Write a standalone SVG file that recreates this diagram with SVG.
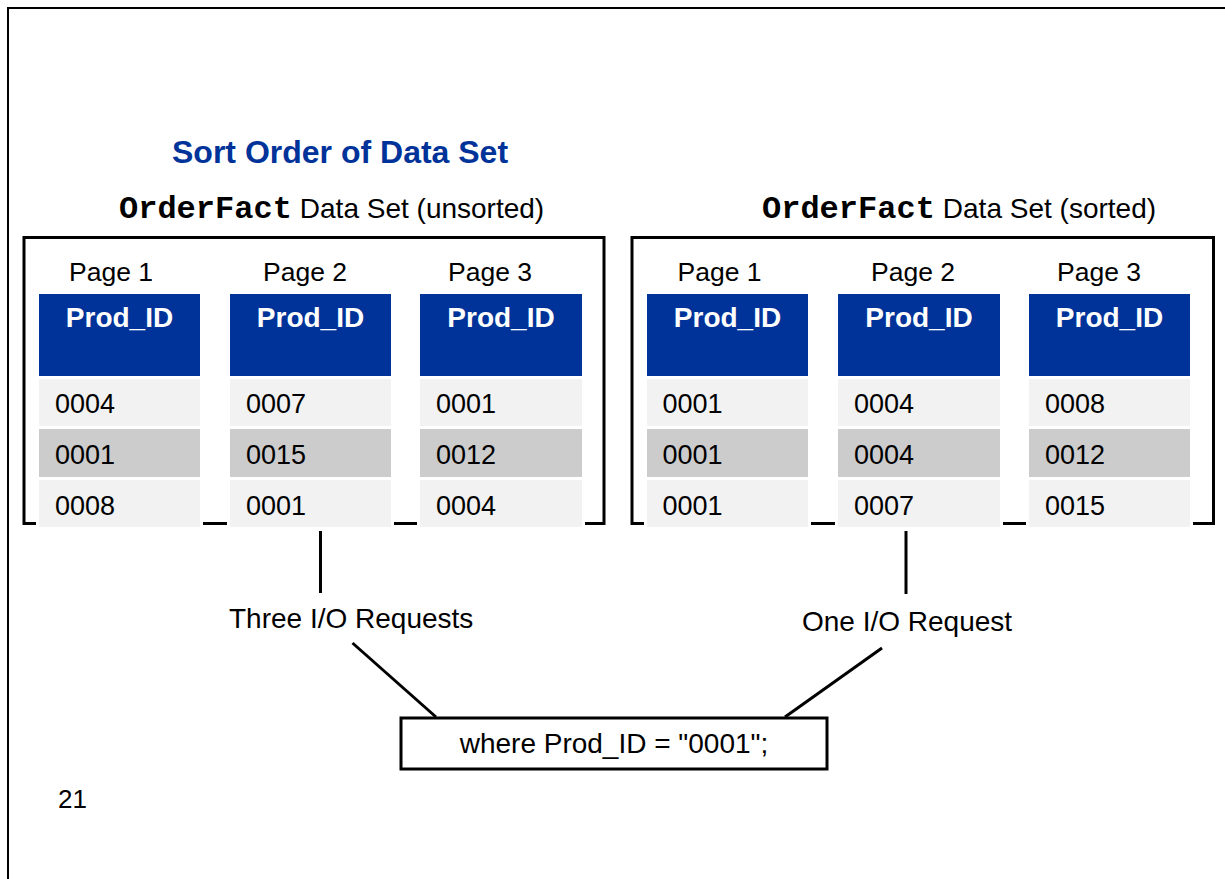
<svg xmlns="http://www.w3.org/2000/svg" width="1225" height="879" viewBox="0 0 1225 879">
<style>
.sans{font-family:"Liberation Sans",Arial,sans-serif;fill:#000}
.title{font-family:"Liberation Sans",Arial,sans-serif;font-weight:bold;font-size:32px;fill:#003399}
.mono{font-family:"Liberation Mono","Courier New",monospace;font-weight:bold;font-size:32px}
.sub{font-size:28px}
.page{font-size:26.5px}
.val{font-size:27px}
.hdr{font-family:"Liberation Sans",Arial,sans-serif;font-weight:bold;font-size:28px;fill:#fff}
.lbl{font-size:28px}
.box{fill:none;stroke:#000;stroke-width:3}
.hbg{fill:#003399}
.r1{fill:#f2f2f2}
.r2{fill:#cccccc}
.back{fill:#fff}
.conn{stroke:#000;stroke-width:3;fill:none}
</style>
<rect width="1225" height="879" fill="#fff"/>
<rect id="frame" x="8" y="8" width="1240" height="900" fill="none" stroke="#000" stroke-width="2"/>

<text id="title" class="title" x="172" y="163">Sort Order of Data Set</text>

<g id="unsorted">
  <text x="119" y="218"><tspan class="mono">OrderFact</tspan><tspan class="sans sub" dx="8">Data Set (unsorted)</tspan></text>
  <rect class="box" x="24" y="237.5" width="580" height="286"/>
  <g id="u-page1">
    <rect class="back" x="36" y="290" width="167" height="240"/>
    <text class="sans page" x="69" y="281">Page 1</text>
    <rect class="hbg" x="39" y="294" width="161" height="82"/>
    <text class="hdr" x="119.5" y="327" text-anchor="middle">Prod_ID</text>
    <rect class="r1" x="39" y="379" width="161" height="47"/>
    <rect class="r2" x="39" y="429" width="161" height="48"/>
    <rect class="r1" x="39" y="480" width="161" height="47"/>
    <text class="sans val" x="55" y="413">0004</text>
    <text class="sans val" x="55" y="464">0001</text>
    <text class="sans val" x="55" y="515">0008</text>
  </g>
  <g id="u-page2">
    <rect class="back" x="227" y="290" width="167" height="240"/>
    <text class="sans page" x="263" y="281">Page 2</text>
    <rect class="hbg" x="230" y="294" width="161" height="82"/>
    <text class="hdr" x="310.5" y="327" text-anchor="middle">Prod_ID</text>
    <rect class="r1" x="230" y="379" width="161" height="47"/>
    <rect class="r2" x="230" y="429" width="161" height="48"/>
    <rect class="r1" x="230" y="480" width="161" height="47"/>
    <text class="sans val" x="246" y="413">0007</text>
    <text class="sans val" x="246" y="464">0015</text>
    <text class="sans val" x="246" y="515">0001</text>
  </g>
  <g id="u-page3">
    <rect class="back" x="417" y="290" width="168" height="240"/>
    <text class="sans page" x="448" y="281">Page 3</text>
    <rect class="hbg" x="420" y="294" width="162" height="82"/>
    <text class="hdr" x="501" y="327" text-anchor="middle">Prod_ID</text>
    <rect class="r1" x="420" y="379" width="162" height="47"/>
    <rect class="r2" x="420" y="429" width="162" height="48"/>
    <rect class="r1" x="420" y="480" width="162" height="47"/>
    <text class="sans val" x="436" y="413">0001</text>
    <text class="sans val" x="436" y="464">0012</text>
    <text class="sans val" x="436" y="515">0004</text>
  </g>
</g>

<g id="sorted">
  <text x="762" y="218"><tspan class="mono">OrderFact</tspan><tspan class="sans sub" dx="8">Data Set (sorted)</tspan></text>
  <rect class="box" x="632" y="237.5" width="581.5" height="286"/>
  <g id="s-page1">
    <rect class="back" x="644" y="290" width="167" height="240"/>
    <text class="sans page" x="677.5" y="281">Page 1</text>
    <rect class="hbg" x="647" y="294" width="161" height="82"/>
    <text class="hdr" x="727.5" y="327" text-anchor="middle">Prod_ID</text>
    <rect class="r1" x="647" y="379" width="161" height="47"/>
    <rect class="r2" x="647" y="429" width="161" height="48"/>
    <rect class="r1" x="647" y="480" width="161" height="47"/>
    <text class="sans val" x="662.5" y="413">0001</text>
    <text class="sans val" x="662.5" y="464">0001</text>
    <text class="sans val" x="662.5" y="515">0001</text>
  </g>
  <g id="s-page2">
    <rect class="back" x="835" y="290" width="168" height="240"/>
    <text class="sans page" x="871" y="281">Page 2</text>
    <rect class="hbg" x="838" y="294" width="162" height="82"/>
    <text class="hdr" x="919" y="327" text-anchor="middle">Prod_ID</text>
    <rect class="r1" x="838" y="379" width="162" height="47"/>
    <rect class="r2" x="838" y="429" width="162" height="48"/>
    <rect class="r1" x="838" y="480" width="162" height="47"/>
    <text class="sans val" x="854" y="413">0004</text>
    <text class="sans val" x="854" y="464">0004</text>
    <text class="sans val" x="854" y="515">0007</text>
  </g>
  <g id="s-page3">
    <rect class="back" x="1026" y="290" width="167" height="240"/>
    <text class="sans page" x="1057" y="281">Page 3</text>
    <rect class="hbg" x="1029" y="294" width="161" height="82"/>
    <text class="hdr" x="1109.5" y="327" text-anchor="middle">Prod_ID</text>
    <rect class="r1" x="1029" y="379" width="161" height="47"/>
    <rect class="r2" x="1029" y="429" width="161" height="48"/>
    <rect class="r1" x="1029" y="480" width="161" height="47"/>
    <text class="sans val" x="1045" y="413">0008</text>
    <text class="sans val" x="1045" y="464">0012</text>
    <text class="sans val" x="1045" y="515">0015</text>
  </g>
</g>

<g id="label-three"><text class="sans lbl" x="229" y="628">Three I/O Requests</text></g>
<g id="label-one"><text class="sans lbl" x="802" y="631">One I/O Request</text></g>

<g id="where">
  <rect x="401" y="718" width="426" height="51" fill="#fff" stroke="#000" stroke-width="3"/>
  <text class="sans lbl" x="614" y="753" text-anchor="middle">where Prod_ID = "0001";</text>
</g>

<g id="connectors">
  <line class="conn" x1="320.5" y1="531" x2="320.5" y2="593"/>
  <line class="conn" x1="906" y1="531" x2="906" y2="594"/>
  <line class="conn" x1="352.5" y1="643" x2="436" y2="717"/>
  <line class="conn" x1="882" y1="648" x2="785" y2="717"/>
</g>

<text id="pagenum" class="sans" font-size="26" x="58" y="808">21</text>
</svg>
